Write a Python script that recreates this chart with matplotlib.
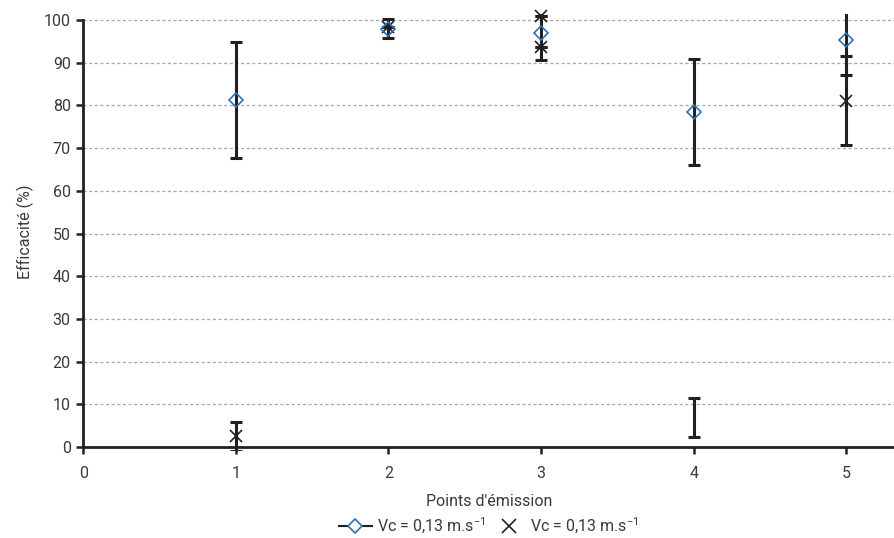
import matplotlib.pyplot as plt
import matplotlib.lines as mlines

# Efficacité par point d'émission
POINTS       = [1, 2, 3, 4, 5]
EFF_DIAMOND  = [81.3, 98.0, 96.9, 78.5, 95.4]
ERR_DIAMOND  = [13.6, 2.3, 6.3, 12.4, 8.3]

CROSS_X      = [1, 2, 3, 3, 5]
EFF_CROSS    = [2.5, 98.4, 93.7, 101.0, 81.1]
ERR_CROSS    = [3.4, 0.0, 0.0, 0.0, 10.4]

# barre d'erreur seule (sans marqueur) au point 4
BAR_X        = [4]
BAR_Y        = [7.0]
BAR_ERR      = [4.6]

LABEL        = "Vc = 0,13 m.s$^{-1}$"
BLUE         = "#2f6fb7"
DARK         = "#231f20"
TXT          = "#3a3a3a"

plt.rcParams["font.family"] = ["Roboto", "DejaVu Sans"]
plt.rcParams["mathtext.default"] = "regular"

FS = 11.5

fig = plt.figure(figsize=(8.95, 5.38), dpi=100)
ax = fig.add_axes([0.093, 0.1643, 0.907, 0.8104])

eb_kw = dict(fmt="none", ecolor=DARK, elinewidth=2.2, capsize=4,
             capthick=2.2, zorder=3)
ax.errorbar(POINTS, EFF_DIAMOND, yerr=ERR_DIAMOND, **eb_kw)
ax.errorbar(CROSS_X, EFF_CROSS, yerr=ERR_CROSS, **eb_kw)
ax.errorbar(BAR_X, BAR_Y, yerr=BAR_ERR, **eb_kw)

ax.plot(CROSS_X, EFF_CROSS, linestyle="none", marker="x", markersize=9,
        markeredgewidth=1.2, color=DARK, clip_on=False, zorder=4)
ax.plot(POINTS, EFF_DIAMOND, linestyle="none", marker="D", markersize=7.5,
        markerfacecolor="none", markeredgecolor=BLUE, markeredgewidth=1.2,
        clip_on=False, zorder=5)

ax.set_xlim(0, 5.32)
ax.set_ylim(-0.6, 101.5)
ax.set_xticks(range(0, 6))
ax.set_yticks(range(0, 101, 10))
ax.yaxis.grid(True, linestyle=(0, (2.5, 2)), color="#a8a8a8", linewidth=0.9)
ax.set_axisbelow(True)

for side in ("top", "right"):
    ax.spines[side].set_visible(False)
for side in ("left", "bottom"):
    ax.spines[side].set_linewidth(2.0)
    ax.spines[side].set_color(DARK)
ax.spines["bottom"].set_position(("data", 0))
ax.spines["left"].set_bounds(0, 100)

ax.tick_params(axis="both", direction="out", length=5, width=1.8,
               color=DARK, labelsize=FS, labelcolor=TXT)
ax.tick_params(axis="x", pad=9)
ax.tick_params(axis="y", pad=4)

ax.set_xlabel("Points d'émission", fontsize=FS, color=TXT, labelpad=9)
ax.set_ylabel("Efficacité (%)", fontsize=FS, color=TXT, labelpad=7)

handles = [
    mlines.Line2D([], [], color=DARK, linewidth=1.5, marker="D", markersize=7.5,
                  markerfacecolor="white", markeredgecolor=BLUE,
                  markeredgewidth=1.2, label=LABEL),
    mlines.Line2D([], [], color=DARK, linestyle="none", marker="x",
                  markersize=10, markeredgewidth=1.2, label=LABEL),
]
fig.legend(handles=handles, loc="center", bbox_to_anchor=(0.546, 0.022),
           ncol=2, frameon=False, fontsize=FS, labelcolor=TXT,
           handlelength=2.1, handletextpad=0.3, columnspacing=0.4)

fig.savefig("out.png", dpi=100)
